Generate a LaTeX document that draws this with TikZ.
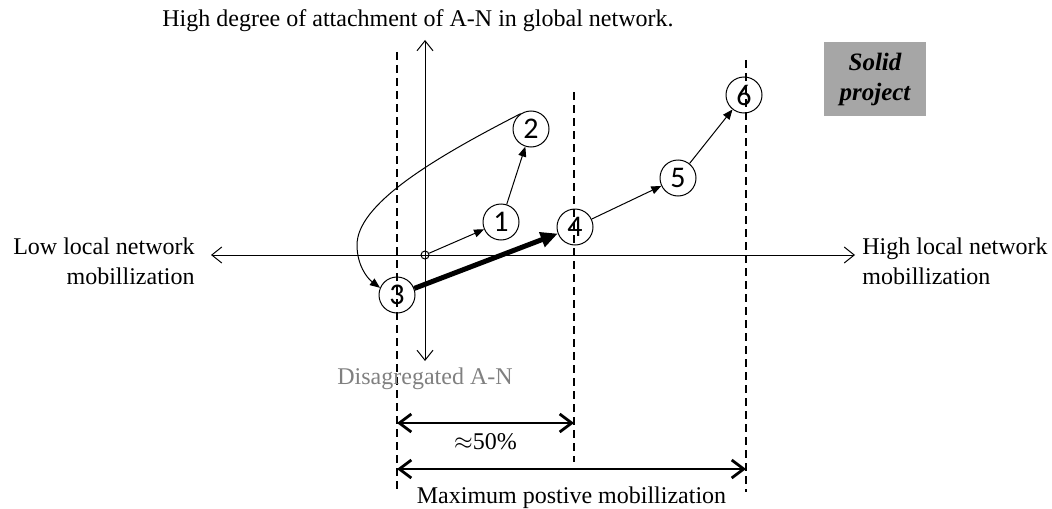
\documentclass[tikz,border=0pt]{standalone}
\usepackage{fontspec}
\setmainfont{Liberation Serif}
\newfontfamily\numfont{Carlito}
\usepackage{tikz}
\usetikzlibrary{arrows.meta,positioning}
\definecolor{boxgray}{HTML}{A6A6A6}
\definecolor{faintgray}{HTML}{808080}

\begin{document}
\begin{tikzpicture}[
  x=0.5pt, y=-0.5pt,
  font=\fontsize{12}{15}\selectfont,
  axis/.style={{Straight Barb[length=5pt,width=8pt]}-{Straight Barb[length=5pt,width=8pt]}, line width=0.5pt},
  guide/.style={dash pattern=on 4pt off 2.5pt, line width=0.6pt},
  stage/.style={
    draw, circle, minimum size=18pt, inner sep=0pt, line width=0.5pt,
    font=\numfont\fontsize{15}{15}\selectfont
  },
  orig/.style={draw, circle, minimum size=4pt, inner sep=0pt, line width=0.5pt},
  move/.style={-{Triangle[length=5pt,width=4pt]}, line width=0.5pt},
  jump/.style={-{Triangle[length=8.5pt,width=7.5pt]}, line width=2.5pt},
  dimline/.style={{Straight Barb[length=6pt,width=9pt]}-{Straight Barb[length=6pt,width=9pt]}, line width=1.4pt},
  txt/.style={inner sep=0pt},
  tag/.style={
    fill=boxgray, minimum width=51pt, minimum height=37pt, align=center,
    font=\bfseries\itshape\fontsize{12.5}{15}\selectfont
  }
]
  \useasboundingbox (0,0) rectangle (1052,508);
  \coordinate (xl) at (211,255);
  \coordinate (xr) at (855,255);
  \coordinate (yt) at (425,40);
  \coordinate (yb) at (425,361);
  \coordinate (g1t) at (397,52);
  \coordinate (g1b) at (397,492);
  \coordinate (g2t) at (574,92);
  \coordinate (g2b) at (574,462);
  \coordinate (g3t) at (746,60);
  \coordinate (g3b) at (746,492);
  \coordinate (s1l) at (397,423);
  \coordinate (s1r) at (574,423);
  \coordinate (s2l) at (397,469);
  \coordinate (s2r) at (746,469);
  \coordinate (bend) at (357,245);
  \draw[guide] (g1t) -- (g1b);
  \draw[guide] (g2t) -- (g2b);
  \draw[guide] (g3t) -- (g3b);
  \draw[axis] (xl) -- (xr);
  \draw[axis] (yt) -- (yb);
  \node[orig] (o) at (425,255) {};
  \node[stage] (n1) at (501,222) {1};
  \node[stage] (n2) at (531,129) {2};
  \node[stage] (n3) at (397,295) {3};
  \node[stage] (n4) at (575,227) {4};
  \node[stage] (n5) at (678,178) {5};
  \node[stage] (n6) at (744,95) {6};
  \draw[move] (o) -- (n1);
  \draw[move] (n1) -- (n2);
  \draw[move] (n2.124) .. controls (430,160) and (357,205) .. (bend)
    .. controls (357,265) and (367,278) .. (n3.157);
  \draw[jump] (n3) -- (n4);
  \draw[move] (n4) -- (n5);
  \draw[move] (n5) -- (n6);
  \node[txt, anchor=base west] (top) at (162,27) {High degree of attachment of A-N in global network.};
  \node[txt, align=right, left=8pt of xl, yshift=-3pt] (low) {Low local network\\mobillization};
  \node[txt, align=left, right=3.5pt of xr, yshift=-3pt] (high) {High local network\\mobillization};
  \node[txt, text=faintgray, below=3pt of yb] (dis) {Disagregated A-N};
  \draw[dimline] (s1l) -- (s1r) node[txt, midway, below=4.5pt] (half) {$\approx$50\%};
  \draw[dimline] (s2l) -- (s2r) node[txt, midway, below=8pt] (maxpos) {Maximum postive mobillization};
  \node[tag] (solid) at (875,79) {Solid\\project};
\end{tikzpicture}
\end{document}
